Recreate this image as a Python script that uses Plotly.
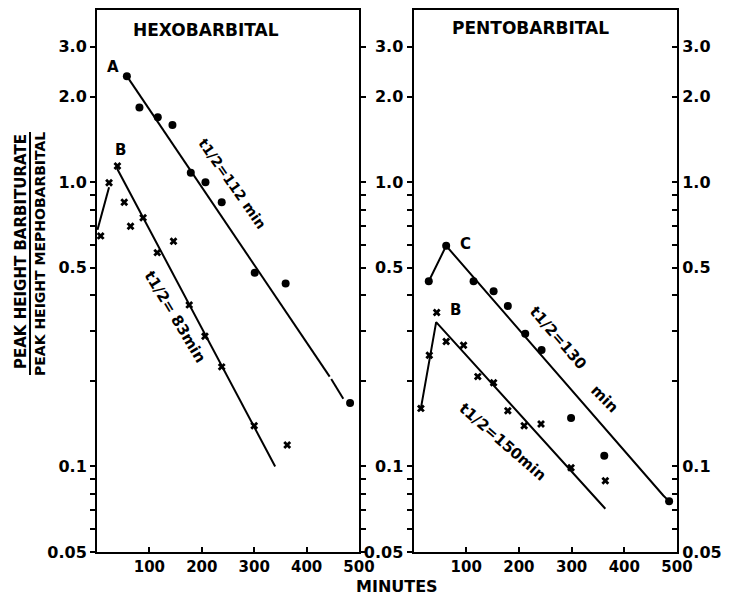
import numpy as np
import plotly.graph_objects as go

# ---------------- data ----------------
# Hexobarbital, curve A (dots)
hexo_a_min = [57, 81, 116, 144, 179, 207, 238, 301, 360, 483]
hexo_a_val = [2.36, 1.83, 1.69, 1.59, 1.08, 1.00, 0.85, 0.48, 0.44, 0.167]
hexo_a_fit_min = [57, 444, None, 447, 470]
hexo_a_fit_val = [2.36, 0.207, None, 0.203, 0.173]

# Hexobarbital, curve B (crosses)
hexo_b_min = [7, 23, 39, 52, 64, 88, 115, 146, 176, 206, 238, 300, 363]
hexo_b_val = [0.647, 0.995, 1.14, 0.85, 0.70, 0.75, 0.565, 0.62, 0.37, 0.287, 0.224, 0.139, 0.119]
hexo_b_rise_min = [1, 23]
hexo_b_rise_val = [0.68, 0.96]
hexo_b_fit_min = [38, 340]
hexo_b_fit_val = [1.12, 0.100]

# Pentobarbital, curve C (dots)
pento_c_min = [29, 62, 114, 152, 179, 212, 243, 299, 362, 485]
pento_c_val = [0.448, 0.597, 0.448, 0.413, 0.367, 0.293, 0.257, 0.148, 0.109, 0.0754]
pento_c_fit_min = [29, 62, 474, 484]
pento_c_fit_val = [0.448, 0.597, 0.079, 0.0758]

# Pentobarbital, curve B (crosses)
pento_b_min = [14, 30, 44, 62, 95, 122, 152, 179, 210, 242, 299, 364]
pento_b_val = [0.160, 0.246, 0.348, 0.275, 0.267, 0.207, 0.197, 0.157, 0.139, 0.141, 0.099, 0.089]
pento_b_fit_min = [14, 43, 364]
pento_b_fit_val = [0.160, 0.322, 0.071]

# axes ticks
y_tickvals = [0.05, 0.06, 0.07, 0.08, 0.09, 0.1, 0.2, 0.3, 0.4, 0.5,
              0.6, 0.7, 0.8, 0.9, 1.0, 2.0, 3.0]
y_ticktext = ["0.05", "", "", "", "", "0.1", "", "", "", "0.5",
              "", "", "", "", "1.0", "2.0", "3.0"]
x_tickvals = [100, 200, 300, 400, 500]
x_ticktext = ["100", "200", "300", "400", "500"]

# ---------------- figure ----------------
W, H = 730, 597
FONT = "DejaVu Sans"
ytickfont = dict(family=FONT, size=16, color="black", weight="bold")
xtickfont = dict(family=FONT, size=15, color="black", weight="bold")

fig = go.Figure()

line_style = dict(color="black", width=2)
dot = dict(symbol="circle", size=8, color="black")
cross = dict(symbol="x", size=7, color="black")

def add(xs, ys, xa, ya, mode, **kw):
    fig.add_trace(go.Scatter(x=xs, y=ys, xaxis=xa, yaxis=ya, mode=mode,
                             showlegend=False, hoverinfo="skip", **kw))

# left panel
add(hexo_a_fit_min, hexo_a_fit_val, "x", "y", "lines", line=line_style, connectgaps=False)
add(hexo_b_rise_min, hexo_b_rise_val, "x", "y", "lines", line=line_style)
add(hexo_b_fit_min, hexo_b_fit_val, "x", "y", "lines", line=line_style)
add(hexo_a_min, hexo_a_val, "x", "y", "markers", marker=dot)
add(hexo_b_min, hexo_b_val, "x", "y", "markers", marker=cross)

# right panel
add(pento_c_fit_min, pento_c_fit_val, "x2", "y2", "lines", line=line_style)
add(pento_b_fit_min, pento_b_fit_val, "x2", "y2", "lines", line=line_style)
add(pento_c_min, pento_c_val, "x2", "y2", "markers", marker=dot)
add(pento_b_min, pento_b_val, "x2", "y2", "markers", marker=cross)
# invisible trace so that the right-hand axis is drawn
add(pento_c_min, pento_c_val, "x2", "y3", "markers", marker=dict(size=1, opacity=0))

ylog_range = [np.log10(0.05), 0.6056]
ydom = [45 / H, 587 / H]

yax_common = dict(type="log", range=ylog_range, domain=ydom,
                  tickvals=y_tickvals, ticktext=y_ticktext, tickfont=ytickfont,
                  showgrid=False, zeroline=False, showline=True,
                  linecolor="black", linewidth=2, tickcolor="black",
                  tickwidth=2, ticklen=5, automargin=False)
xax_common = dict(range=[0, 500], tickvals=x_tickvals, ticktext=x_ticktext,
                  tickfont=xtickfont, showgrid=False, zeroline=False,
                  showline=True, linecolor="black", linewidth=2,
                  ticks="inside", tickcolor="black", tickwidth=2, ticklen=5,
                  mirror=True, automargin=False)

fig.update_layout(
    width=W, height=H,
    margin=dict(l=0, r=0, t=0, b=0),
    plot_bgcolor="white", paper_bgcolor="white",
    xaxis=dict(domain=[97 / W, 359 / W], anchor="y", **xax_common),
    xaxis2=dict(domain=[413.5 / W, 677 / W], anchor="y2", **xax_common),
    yaxis=dict(anchor="x", ticks="outside", mirror="ticks", **yax_common),
    yaxis2=dict(anchor="x2", ticks="outside", mirror=True, **yax_common),
    yaxis3=dict(anchor="x2", overlaying="y2", side="right", ticks="inside",
                **yax_common),
)

lbl = dict(family=FONT, size=14, color="black", weight="bold")
lbl15 = dict(family=FONT, size=15, color="black", weight="bold")
annots = [
    # panel titles
    dict(text="HEXOBARBITAL", xref="paper", yref="paper", x=205.5 / W,
         y=1 - 30 / H, font=dict(family=FONT, size=17, color="black", weight="bold")),
    dict(text="PENTOBARBITAL", xref="paper", yref="paper", x=530.6 / W,
         y=1 - 28 / H, font=dict(family=FONT, size=17, color="black", weight="bold")),
    # curve letters
    dict(text="A", xref="x", yref="y", x=30, y=np.log10(2.54), font=lbl15),
    dict(text="B", xref="x", yref="y", x=44, y=np.log10(1.30), font=lbl15),
    dict(text="C", xref="x2", yref="y2", x=98, y=np.log10(0.608), font=lbl15),
    dict(text="B", xref="x2", yref="y2", x=79, y=np.log10(0.354), font=lbl15),
    # half-lives
    dict(text="t1/2=112 min", xref="x", yref="y", x=257, y=np.log10(0.99),
         textangle=55, font=lbl),
    dict(text="t1/2= 83min", xref="x", yref="y", x=149, y=np.log10(0.335),
         textangle=59, font=lbl15),
    dict(text="t1/2=130", xref="x2", yref="y2", x=274, y=np.log10(0.282),
         textangle=49, font=lbl15),
    dict(text="min", xref="x2", yref="y2", x=363, y=np.log10(0.173),
         textangle=45, font=lbl15),
    dict(text="t1/2=150min", xref="x2", yref="y2", x=169, y=np.log10(0.1216),
         textangle=41, font=lbl15),
    # axis titles
    dict(text="PEAK HEIGHT BARBITURATE", xref="paper", yref="paper",
         x=21 / W, y=1 - 252 / H, textangle=-90,
         font=dict(family=FONT, size=15, color="black", weight="bold")),
    dict(text="PEAK HEIGHT MEPHOBARBITAL", xref="paper", yref="paper",
         x=40 / W, y=1 - 254 / H, textangle=-90,
         font=dict(family=FONT, size=14, color="black", weight="bold")),
    dict(text="MINUTES", xref="paper", yref="paper", x=397 / W, y=0,
         yanchor="bottom", borderpad=0,
         font=dict(family=FONT, size=16, color="black", weight="bold")),
]
for a in annots:
    a.setdefault("showarrow", False)
    a.setdefault("xanchor", "center")
    a.setdefault("yanchor", "middle")
fig.update_layout(annotations=annots)

fig.add_shape(type="line", xref="paper", yref="paper",
              x0=30 / W, x1=30 / W, y0=1 - 132 / H, y1=1 - 375 / H,
              line=dict(color="black", width=2))

fig.write_html("out.html",
               post_script="document.body.style.margin='0';"
                           "document.body.style.overflow='hidden';")
